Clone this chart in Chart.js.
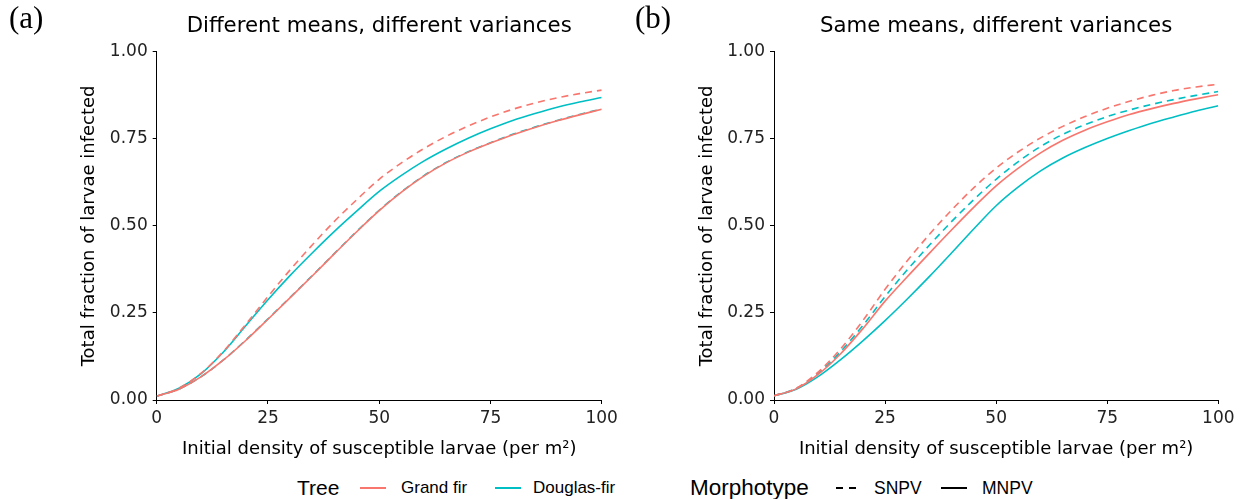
<!DOCTYPE html>
<html lang="en">
<head>
  <meta charset="UTF-8">
  <title>Total fraction of larvae infected</title>
  <style>
    body { margin: 0; background: #fff; }
    #wrap { position: relative; width: 1245px; height: 499px; overflow: hidden; }
    canvas { position: absolute; top: 0; }
    .tag { position: absolute; top: 0px; font-family: "Liberation Serif", "DejaVu Serif", serif; font-size: 31px; color: #000; }
    .leg { position: absolute; top: 476px; line-height: 24px; height: 24px; font-family: "Liberation Sans", Arial, sans-serif; color: #000; white-space: nowrap; }
    .key { position: absolute; top: 476px; }
  </style>
  <script src="https://cdn.jsdelivr.net/npm/chart.js"></script>
</head>
<body>
<div id="wrap">
  <canvas id="panelA" width="622" height="465" style="left:0"></canvas>
  <canvas id="panelB" width="623" height="465" style="left:622px"></canvas>
  <div class="tag" style="left:9px">(a)</div>
  <div class="tag" style="left:635px">(b)</div>

  <!-- legend -->
  <div class="leg" style="left:297px; font-size:21px">Tree</div>
  <svg class="key" style="left:358px" width="30" height="24"><line x1="2" y1="12" x2="28" y2="12" stroke="#F8766D" stroke-width="2"/></svg>
  <div class="leg" style="left:401px; font-size:17px">Grand fir</div>
  <svg class="key" style="left:493px" width="30" height="24"><line x1="2" y1="12" x2="28" y2="12" stroke="#00BFC4" stroke-width="2"/></svg>
  <div class="leg" style="left:533px; font-size:17px">Douglas-fir</div>
  <div class="leg" style="left:690px; font-size:22.5px">Morphotype</div>
  <svg class="key" style="left:834px" width="28" height="24"><line x1="2" y1="12" x2="26" y2="12" stroke="#000" stroke-width="2" stroke-dasharray="7,6"/></svg>
  <div class="leg" style="left:874px; font-size:17.5px">SNPV</div>
  <svg class="key" style="left:939px" width="30" height="24"><line x1="2" y1="12" x2="28" y2="12" stroke="#000" stroke-width="2"/></svg>
  <div class="leg" style="left:982px; font-size:17.5px">MNPV</div>
</div>

<script>
  // x positions (initial density, per m2) and tick values
  const density = [0, 5, 10, 15, 20, 25, 30, 35, 40, 45, 50, 55, 60, 65, 70, 75, 80, 85, 90, 95, 100];
  const xTicks = [0, 25, 50, 75, 100];
  const yTicks = [0, 0.25, 0.5, 0.75, 1];

  // (a) Different means, different variances
  const aGrandSNPV   = [0.011, 0.034, 0.077, 0.140, 0.217, 0.297, 0.374, 0.446, 0.514, 0.576, 0.634, 0.681, 0.722, 0.757, 0.787, 0.813, 0.835, 0.853, 0.868, 0.880, 0.890];
  const aGrandMNPV   = [0.011, 0.031, 0.067, 0.115, 0.171, 0.232, 0.294, 0.357, 0.421, 0.484, 0.544, 0.597, 0.643, 0.681, 0.712, 0.738, 0.762, 0.783, 0.802, 0.819, 0.835];
  const aDouglasSNPV = [0.011, 0.031, 0.067, 0.115, 0.172, 0.233, 0.295, 0.358, 0.422, 0.485, 0.545, 0.598, 0.644, 0.682, 0.713, 0.739, 0.763, 0.784, 0.803, 0.820, 0.836];
  const aDouglasMNPV = [0.011, 0.034, 0.076, 0.138, 0.213, 0.288, 0.358, 0.423, 0.485, 0.543, 0.599, 0.645, 0.686, 0.721, 0.752, 0.779, 0.803, 0.823, 0.841, 0.856, 0.869];

  // (b) Same means, different variances
  const bGrandSNPV   = [0.012, 0.034, 0.081, 0.147, 0.228, 0.318, 0.400, 0.476, 0.546, 0.610, 0.666, 0.713, 0.753, 0.786, 0.814, 0.838, 0.858, 0.875, 0.889, 0.899, 0.907];
  const bGrandMNPV   = [0.012, 0.032, 0.074, 0.133, 0.205, 0.284, 0.354, 0.422, 0.489, 0.554, 0.615, 0.666, 0.710, 0.746, 0.775, 0.799, 0.820, 0.837, 0.852, 0.865, 0.877];
  const bDouglasSNPV = [0.012, 0.033, 0.077, 0.139, 0.214, 0.297, 0.374, 0.445, 0.513, 0.576, 0.634, 0.685, 0.728, 0.763, 0.791, 0.814, 0.833, 0.849, 0.863, 0.875, 0.886];
  const bDouglasMNPV = [0.012, 0.031, 0.068, 0.116, 0.170, 0.228, 0.290, 0.355, 0.423, 0.492, 0.558, 0.612, 0.658, 0.695, 0.725, 0.751, 0.774, 0.795, 0.813, 0.830, 0.845];

  const grandFir = '#F8766D';
  const douglasFir = '#00BFC4';
  const sans = '"DejaVu Sans", "Liberation Sans", sans-serif';

  function line(values, colour, dashed) {
    return {
      data: density.map((x, i) => ({ x: x, y: values[i] })),
      borderColor: colour,
      borderWidth: 1.6,
      borderDash: dashed ? [7, 5] : [],
      pointRadius: 0,
      fill: false,
      cubicInterpolationMode: 'monotone'
    };
  }

  function makePanel(id, title, sets, axisWidth, yTitleGap, rightPad) {
    return new Chart(document.getElementById(id), {
      type: 'line',
      data: { datasets: sets },
      options: {
        responsive: false,
        animation: false,
        devicePixelRatio: 1,
        layout: { padding: { left: 0, right: rightPad, top: 0, bottom: 0 } },
        plugins: {
          legend: { display: false },
          tooltip: { enabled: false },
          title: {
            display: true, text: title, color: '#000', fullSize: false,
            font: { family: sans, size: 21.3, weight: 'normal' },
            padding: { top: 14, bottom: 12.3 }
          }
        },
        scales: {
          x: {
            type: 'linear', min: 0, max: 100,
            afterBuildTicks: s => { s.ticks = xTicks.map(v => ({ value: v })); },
            afterFit: s => { s.height = 65; },
            grid: { drawOnChartArea: false, tickLength: 4, color: '#000' },
            border: { color: '#000', width: 1 },
            ticks: { color: '#222', padding: 4, font: { family: sans, size: 17 }, callback: v => String(v) },
            title: {
              display: true, text: 'Initial density of susceptible larvae (per m²)', color: '#000',
              font: { family: sans, size: 18 }, padding: { top: 0, bottom: 5 }
            }
          },
          y: {
            min: 0, max: 1,
            afterBuildTicks: s => { s.ticks = yTicks.map(v => ({ value: v })); },
            afterFit: s => { s.width = axisWidth; },
            grid: { drawOnChartArea: false, tickLength: 4, color: '#000' },
            border: { color: '#000', width: 1 },
            ticks: { color: '#222', padding: 5, font: { family: sans, size: 17 }, callback: v => v.toFixed(2) },
            title: {
              display: true, text: 'Total fraction of larvae infected', color: '#000',
              font: { family: sans, size: 18 }, padding: { top: yTitleGap, bottom: 0 }
            }
          }
        }
      }
    });
  }

  makePanel('panelA', 'Different means, different variances', [
    line(aGrandMNPV, grandFir, false),
    line(aGrandSNPV, grandFir, true),
    line(aDouglasMNPV, douglasFir, false),
    line(aDouglasSNPV, douglasFir, true)
  ], 156.7, 79, 20.3);

  makePanel('panelB', 'Same means, different variances', [
    line(bGrandMNPV, grandFir, false),
    line(bGrandSNPV, grandFir, true),
    line(bDouglasMNPV, douglasFir, false),
    line(bDouglasSNPV, douglasFir, true)
  ], 152, 75, 26.7);
</script>
</body>
</html>
